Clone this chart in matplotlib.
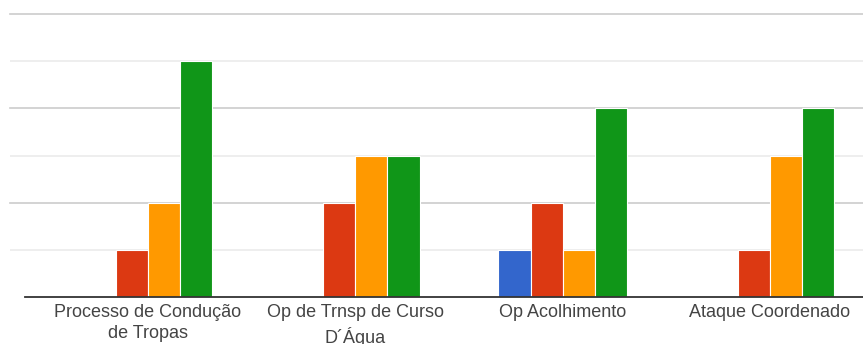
import matplotlib
matplotlib.use("Agg")
import matplotlib.pyplot as plt
import numpy as np

categorias = ["Processo de Condução\nde Tropas", "Op de Trnsp de Curso\nD´Água",
              "Op Acolhimento", "Ataque Coordenado"]
serie_azul = [0, 0, 1, 0]
serie_vermelha = [1, 2, 2, 1]
serie_laranja = [2, 3, 1, 3]
serie_verde = [5, 3, 4, 4]

cores = ["#3366cc", "#dc3912", "#ff9900", "#109618"]
series = [serie_azul, serie_vermelha, serie_laranja, serie_verde]

W, H = 863, 344
fig = plt.figure(figsize=(W / 100, H / 100), dpi=100)
# axes em pixels: esquerda 10, direita 863, base 297, topo 10
ax = fig.add_axes([10 / W, (H - 297) / H, (W - 10) / W, 287 / H])

x = np.arange(len(categorias))
largura = 0.155
for i, (vals, cor) in enumerate(zip(series, cores)):
    ax.bar(x + (i - 1.5) * largura, vals, largura, color=cor,
           edgecolor="white", linewidth=0.8, zorder=3)

# grade: linhas pares mais escuras, impares mais claras
for v in [2, 4, 6]:
    ax.axhline(v, color="#cccccc", linewidth=1.2, zorder=1, clip_on=False)
for v in [1, 3, 5]:
    ax.axhline(v, color="#ebebeb", linewidth=1.2, zorder=1)

ax.set_xlim(-0.666, 3.449)
ax.set_ylim(0, 6 * 287 / 283)
ax.plot([-0.593, 3.449], [0, 0], color="#333333", linewidth=1.3, zorder=4,
        clip_on=False)

for s in ax.spines.values():
    s.set_visible(False)
ax.set_yticks([])
ax.set_xticks(x)
ax.set_xticklabels(categorias, fontsize=13, color="#444444",
                   family=["Liberation Sans", "DejaVu Sans"], linespacing=1.35)
ax.tick_params(axis="x", length=0, pad=5)

fig.savefig("out.png", dpi=100)
